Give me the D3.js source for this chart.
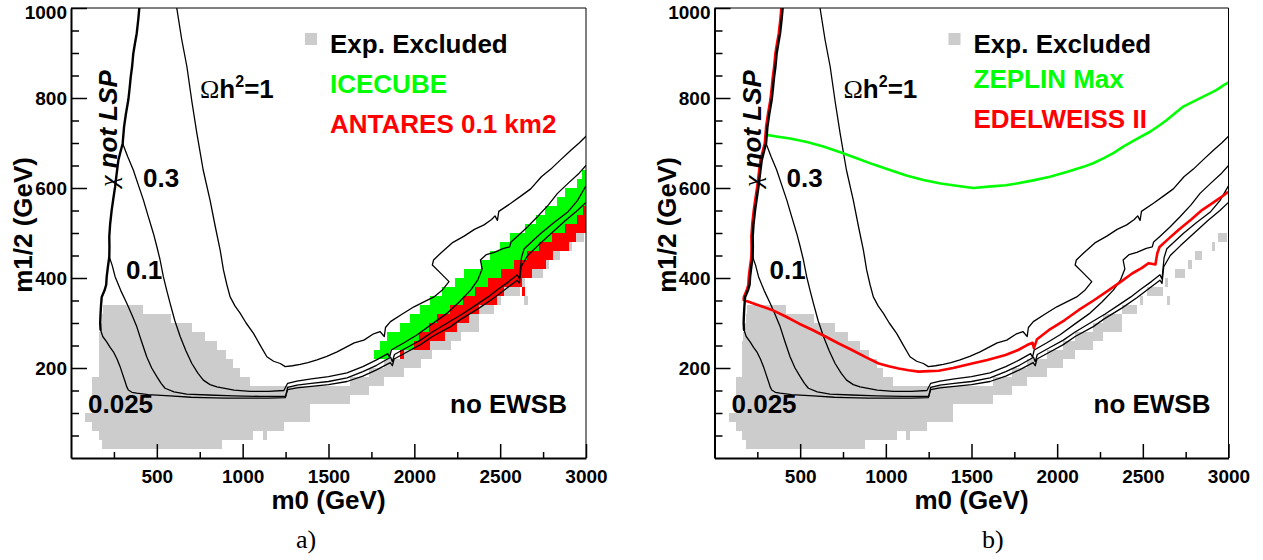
<!DOCTYPE html>
<html>
<head>
<meta charset="utf-8">
<script src="https://cdn.jsdelivr.net/npm/d3@7"></script>
<style>
  body { margin: 0; background: #ffffff; }
  svg { display: block; }
</style>
</head>
<body>
<svg id="chart" width="1263" height="560"></svg>
<script>
// ---------- axis ticks ----------
const m0Ticks = [500, 1000, 1500, 2000, 2500, 3000];
const m0Minor = [250, 750, 1250, 1750, 2250, 2750];
const m12Ticks = [200, 400, 600, 800, 1000];
const m12Minor = [50, 100, 150, 250, 300, 350, 450, 500, 550, 650, 700, 750, 850, 900, 950];

// scan grid row height in m1/2 (GeV)
const cellHeight = 20;

// experimentally excluded cells: [m1/2 row start, m0 from, m0 to]
const excludedCells = [
  [20, 183, 879],
  [40, 163, 1063], [40, 1118, 1141],
  [60, 124, 1238],
  [80, 82, 1390],
  [100, 124, 1390],
  [120, 124, 1628],
  [140, 124, 1735],
  [160, 124, 1044], [160, 1628, 1823],
  [180, 163, 985], [180, 1735, 1939],
  [200, 163, 946], [200, 1823, 2036],
  [220, 163, 904], [220, 1939, 2105],
  [240, 163, 850], [240, 2036, 2211],
  [260, 165, 781], [260, 2105, 2270],
  [280, 173, 704], [280, 2211, 2377],
  [300, 183, 583], [300, 2270, 2377],
  [320, 188, 418], [320, 2377, 2465],
  [340, 2484, 2503], [340, 2640, 2660],
  [360, 2523, 2618],
  [380, 2628, 2647],
  [400, 2686, 2747],
  [420, 2766, 2786],
  [440, 2805, 2848],
  [460, 2902, 2920],
  [480, 2941, 2990]
];

// ICECUBE sensitive cells: [m1/2 row start, m0 from, m0 to]
const icecubeCells = [
  [620, 2978, 3000], [600, 2945, 3000], [580, 2880, 3000], [560, 2832, 3000],
  [540, 2764, 2985], [520, 2706, 2945], [500, 2647, 2875], [480, 2560, 2800],
  [460, 2501, 2728], [440, 2443, 2655], [420, 2390, 2580], [400, 2290, 2505],
  [380, 2239, 2430], [360, 2161, 2356], [340, 2093, 2282], [320, 2035, 2208],
  [300, 1977, 2134], [280, 1918, 2085], [260, 1841, 2025], [240, 1802, 2000],
  [220, 1763, 1860]
];

// ANTARES 0.1 km2 sensitive cells
const antaresCells = [
  [540, 2985, 3000], [520, 2945, 3000], [500, 2875, 3000], [480, 2800, 2941],
  [460, 2728, 2902], [440, 2655, 2805], [420, 2580, 2766], [400, 2505, 2686],
  [380, 2430, 2628], [360, 2356, 2521], [360, 2628, 2647], [340, 2282, 2484],
  [320, 2208, 2375], [300, 2134, 2317], [280, 2085, 2249], [260, 2025, 2181],
  [240, 2000, 2093], [220, 1914, 1942]
];

// chi-not-LSP boundary: [m0, m1/2]
const lspBoundary = [
  [398, 1000], [392, 975], [383, 944], [372, 920], [363, 899], [356, 870], [348, 847],
  [341, 820], [334, 796], [320, 765], [309, 736], [301, 699], [288, 680], [276, 662],
  [266, 632], [257, 603], [246, 575], [237, 551], [228, 520], [223, 492], [224, 470],
  [223, 447], [215, 425], [208, 403], [205, 385], [195, 372], [179, 358], [175, 340],
  [172, 320], [170, 300], [172, 285]
];

// relic density contours Omega h^2
const omega1 = [
  [616, 1000], [645, 930], [675, 870], [705, 790], [733, 722], [770, 640], [810, 573],
  [840, 515], [869, 462], [888, 418], [908, 385], [927, 358], [955, 338], [985, 322],
  [1020, 300], [1063, 277], [1100, 252], [1141, 225], [1180, 215], [1219, 210],
  [1248, 203], [1290, 205], [1335, 208], [1380, 212], [1433, 218], [1490, 226],
  [1550, 236], [1600, 246], [1650, 256], [1706, 262], [1763, 276], [1800, 281],
  [1825, 270], [1832, 290], [1861, 303], [1930, 320], [1998, 336], [2050, 346],
  [2114, 358], [2160, 372], [2202, 392], [2150, 412], [2105, 429], [2112, 440],
  [2153, 455], [2220, 478], [2290, 493], [2350, 508], [2406, 518], [2450, 530],
  [2470, 538], [2484, 528], [2492, 548], [2562, 566], [2620, 582], [2678, 598],
  [2740, 625], [2795, 642], [2850, 662], [2912, 684], [2960, 700], [3000, 715]
];
const omega03 = [
  [301, 699], [330, 670], [363, 640], [392, 607], [422, 573], [450, 537], [480, 499],
  [500, 470], [519, 440], [538, 403], [558, 372], [577, 344], [605, 305], [636, 270],
  [670, 238], [704, 210], [740, 188], [771, 173], [810, 163], [850, 158], [950, 151],
  [1044, 148], [1150, 148], [1240, 150], [1262, 166], [1316, 171], [1400, 176],
  [1500, 181], [1608, 189], [1700, 203], [1780, 218], [1845, 232], [1856, 224],
  [1866, 240], [1940, 256], [2017, 274], [2100, 297], [2192, 322], [2260, 346],
  [2328, 373], [2370, 396], [2395, 420], [2385, 440], [2420, 452], [2465, 457],
  [2520, 466], [2555, 469], [2563, 480], [2601, 493], [2660, 514], [2717, 536],
  [2780, 562], [2834, 588], [2900, 612], [2960, 633], [3000, 650]
];
const omega01 = [
  [223, 447], [240, 428], [257, 403], [290, 372], [325, 344], [355, 318], [383, 292],
  [410, 260], [441, 225], [470, 200], [500, 181], [525, 166], [548, 155], [600, 147],
  [674, 142], [800, 140], [946, 138], [1100, 137], [1250, 137], [1262, 157],
  [1316, 162], [1400, 166], [1500, 170], [1608, 178], [1700, 192], [1780, 206],
  [1862, 224], [1872, 214], [1884, 230], [1960, 246], [2036, 262], [2105, 280],
  [2192, 300], [2280, 320], [2367, 342], [2430, 358], [2484, 374], [2550, 392],
  [2600, 407], [2612, 398], [2624, 445], [2640, 465], [2736, 499], [2810, 522],
  [2892, 546], [2950, 572], [3000, 605]
];
const omega0025 = [
  [172, 285], [185, 270], [208, 258], [228, 246], [247, 236], [268, 220], [286, 203],
  [300, 187], [315, 170], [325, 158], [334, 151], [355, 146], [383, 144], [450, 141],
  [577, 138], [700, 135], [771, 134], [900, 133], [1024, 133], [1150, 133],
  [1248, 134], [1262, 152], [1316, 156], [1400, 159], [1500, 163], [1608, 170],
  [1700, 182], [1780, 196], [1860, 212], [1872, 205], [1882, 220], [1960, 236],
  [2036, 252], [2105, 270], [2211, 292], [2270, 308], [2377, 333], [2465, 356],
  [2540, 378], [2600, 395], [2612, 388], [2622, 425], [2660, 450], [2720, 472],
  [2800, 500], [2880, 528], [2950, 550], [3000, 568]
];

// direct detection limits (panel b)
const zeplinMax = [
  [305, 718], [370, 714], [441, 710], [540, 702], [635, 692], [730, 680], [830, 666],
  [930, 652], [1024, 640], [1120, 628], [1219, 618], [1320, 610], [1433, 604],
  [1511, 600], [1600, 603], [1700, 606], [1764, 610], [1860, 617], [1958, 625],
  [2060, 636], [2153, 647], [2210, 655], [2270, 666], [2330, 678], [2386, 692],
  [2460, 708], [2542, 725], [2600, 740], [2640, 751], [2700, 770], [2736, 781],
  [2800, 793], [2853, 803], [2900, 812], [2931, 818], [2970, 828], [3000, 835]
];
const edelweiss = [
  [178, 351], [260, 340], [343, 329], [420, 315], [499, 299], [577, 285], [655, 270],
  [730, 255], [810, 240], [890, 224], [966, 210], [1025, 204], [1082, 199], [1140, 195],
  [1199, 192], [1260, 193], [1316, 194], [1400, 200], [1511, 210], [1600, 218],
  [1706, 229], [1780, 240], [1832, 251], [1864, 256], [1872, 244], [1890, 264],
  [1958, 284], [2050, 306], [2134, 329], [2220, 350], [2309, 373], [2380, 392],
  [2445, 410], [2500, 422], [2542, 433], [2581, 430], [2592, 455], [2605, 469],
  [2660, 488], [2717, 507], [2790, 530], [2853, 551], [2920, 568], [2980, 584],
  [3000, 590]
];

// ---------- drawing ----------
const svg = d3.select('#chart');
const FONT = "'Liberation Sans', Arial, Helvetica, sans-serif";
const GREEN = '#00ff00', RED = '#ff0000', GRAY = '#cccccc';

const panels = [
  {
    name: 'a', left: 71, right: 586, caption: 'a)', captionX: 296,
    legend: [
      { text: 'Exp. Excluded', color: '#000000', y: 53, box: true },
      { text: 'ICECUBE', color: GREEN, y: 93 },
      { text: 'ANTARES 0.1 km2', color: RED, y: 133 }
    ]
  },
  {
    name: 'b', left: 714.5, right: 1228.5, caption: 'b)', captionX: 982,
    legend: [
      { text: 'Exp. Excluded', color: '#000000', y: 53, box: true },
      { text: 'ZEPLIN Max', color: GREEN, y: 88 },
      { text: 'EDELWEISS II', color: RED, y: 128 }
    ]
  }
];

const TOP = 8, BOTTOM = 458;

panels.forEach(p => {
  const g = svg.append('g');
  const x = d3.scaleLinear().domain([0, 3000]).range([p.left, p.right]);
  const y = d3.scaleLinear().domain([0, 1000]).range([BOTTOM, TOP]);

  const clipId = 'clip-' + p.name;
  svg.append('clipPath').attr('id', clipId)
    .append('rect').attr('x', p.left).attr('y', TOP)
    .attr('width', p.right - p.left).attr('height', BOTTOM - TOP);
  const plot = g.append('g').attr('clip-path', `url(#${clipId})`);

  const cells = (data, color) => plot.append('g')
    .attr('fill', color).attr('shape-rendering', 'crispEdges')
    .selectAll('rect').data(data).join('rect')
    .attr('x', d => x(d[1]))
    .attr('width', d => x(d[2]) - x(d[1]))
    .attr('y', d => y(d[0] + cellHeight))
    .attr('height', d => y(d[0]) - y(d[0] + cellHeight));

  cells(excludedCells, GRAY);
  if (p.name === 'a') {
    cells(icecubeCells, GREEN);
    cells(antaresCells, RED);
  }

  const line = d3.line().x(d => x(d[0])).y(d => y(d[1]));
  const path = (data, color, width) => plot.append('path')
    .datum(data).attr('d', line).attr('fill', 'none')
    .attr('stroke', color).attr('stroke-width', width)
    .attr('stroke-linejoin', 'round').attr('stroke-linecap', 'round');

  [omega1, omega03, omega01, omega0025].forEach(c => path(c, '#000000', 1.3));

  if (p.name === 'b') {
    // EDELWEISS II follows the LSP boundary down, then turns along the plane
    const redLine = lspBoundary.filter(d => d[1] >= 355).concat(edelweiss);
    path(redLine, RED, 2.6).attr('transform', 'translate(-1.3,0)');
    path(zeplinMax, GREEN, 2.6);
  }
  path(lspBoundary, '#000000', 2.4);

  // frame
  g.append('line').attr('x1', p.left).attr('x2', p.right).attr('y1', TOP).attr('y2', TOP)
    .attr('stroke', '#000').attr('stroke-width', 1);
  g.append('line').attr('x1', p.right).attr('x2', p.right).attr('y1', TOP).attr('y2', BOTTOM)
    .attr('stroke', '#000').attr('stroke-width', 1);

  const styleAxis = a => {
    a.attr('font-family', FONT).attr('font-size', 19).attr('font-weight', 'bold');
    a.selectAll('.tick line').attr('stroke-width', 1.5);
    a.selectAll('.domain').attr('stroke-width', 2);
  };
  const fmt = d3.format('d');

  // x axis
  const xMin = g.append('g').attr('transform', `translate(0,${BOTTOM})`)
    .call(d3.axisBottom(x).tickValues(m0Minor).tickSizeInner(-6).tickSizeOuter(0).tickFormat(''));
  xMin.select('.domain').remove();
  xMin.selectAll('.tick line').attr('stroke-width', 1.5);
  const xAx = g.append('g').attr('transform', `translate(0,${BOTTOM})`)
    .call(d3.axisBottom(x).tickValues(m0Ticks).tickFormat(fmt)
      .tickSizeInner(-14).tickSizeOuter(0).tickPadding(11.5));
  styleAxis(xAx);

  // y axis
  const yMin = g.append('g').attr('transform', `translate(${p.left},0)`)
    .call(d3.axisLeft(y).tickValues(m12Minor).tickSizeInner(-8).tickSizeOuter(0).tickFormat(''));
  yMin.select('.domain').remove();
  yMin.selectAll('.tick line').attr('stroke-width', 1.5);
  const yAx = g.append('g').attr('transform', `translate(${p.left},0)`)
    .call(d3.axisLeft(y).tickValues(m12Ticks).tickFormat(fmt)
      .tickSizeInner(-16).tickSizeOuter(0).tickPadding(4));
  styleAxis(yAx);
  // keep the top label inside the page
  yAx.selectAll('.tick text').filter(d => d === 1000).attr('dy', '0.55em');

  // axis titles
  g.append('text').attr('x', (p.left + p.right) / 2).attr('y', 509)
    .attr('text-anchor', 'middle').attr('font-family', FONT).attr('font-weight', 'bold')
    .attr('font-size', 26).text('m0 (GeV)');
  g.append('text').attr('transform', `translate(${p.left - 39},157) rotate(-90)`)
    .attr('text-anchor', 'end').attr('font-family', FONT).attr('font-weight', 'bold')
    .attr('font-size', 26).text('m1/2 (GeV)');

  // legend
  p.legend.forEach(item => {
    if (item.box) {
      g.append('rect').attr('x', p.left + 234).attr('y', item.y - 20)
        .attr('width', 12).attr('height', 12).attr('fill', GRAY);
    }
    g.append('text').attr('x', p.left + 259).attr('y', item.y)
      .attr('font-family', FONT).attr('font-weight', 'bold').attr('font-size', 26)
      .attr('fill', item.color).text(item.text);
  });

  // contour annotations
  const label = (txt, dx, yy) => g.append('text').attr('x', p.left + dx).attr('y', yy)
    .attr('font-family', FONT).attr('font-weight', 'bold').attr('font-size', 26).text(txt);
  label('0.3', 72, 187);
  label('0.1', 55, 279);
  label('0.025', 17, 413);
  label('no EWSB', 379, 413);

  const om = g.append('text').attr('x', p.left + 129).attr('y', 98)
    .attr('font-family', FONT).attr('font-weight', 'bold').attr('font-size', 26);
  om.append('tspan').attr('font-family', "'Liberation Serif', serif").attr('font-weight', 'normal').text('Ω');
  om.append('tspan').text('h');
  om.append('tspan').attr('font-size', 16).attr('dy', -11).text('2');
  om.append('tspan').attr('dy', 11).text('=1');

  const lsp = g.append('text').attr('transform', `translate(${p.left + 46},187) rotate(-90)`)
    .attr('font-family', FONT).attr('font-weight', 'bold').attr('font-style', 'italic')
    .attr('font-size', 26);
  lsp.append('tspan').attr('font-family', "'Liberation Serif', serif").attr('font-weight', 'normal').text('χ');
  lsp.append('tspan').text(' not LSP');

  // panel caption
  svg.append('text').attr('x', p.captionX).attr('y', 548)
    .attr('font-family', "'Liberation Serif', 'DejaVu Serif', serif").attr('font-size', 26)
    .text(p.caption);
});
</script>
</body>
</html>
